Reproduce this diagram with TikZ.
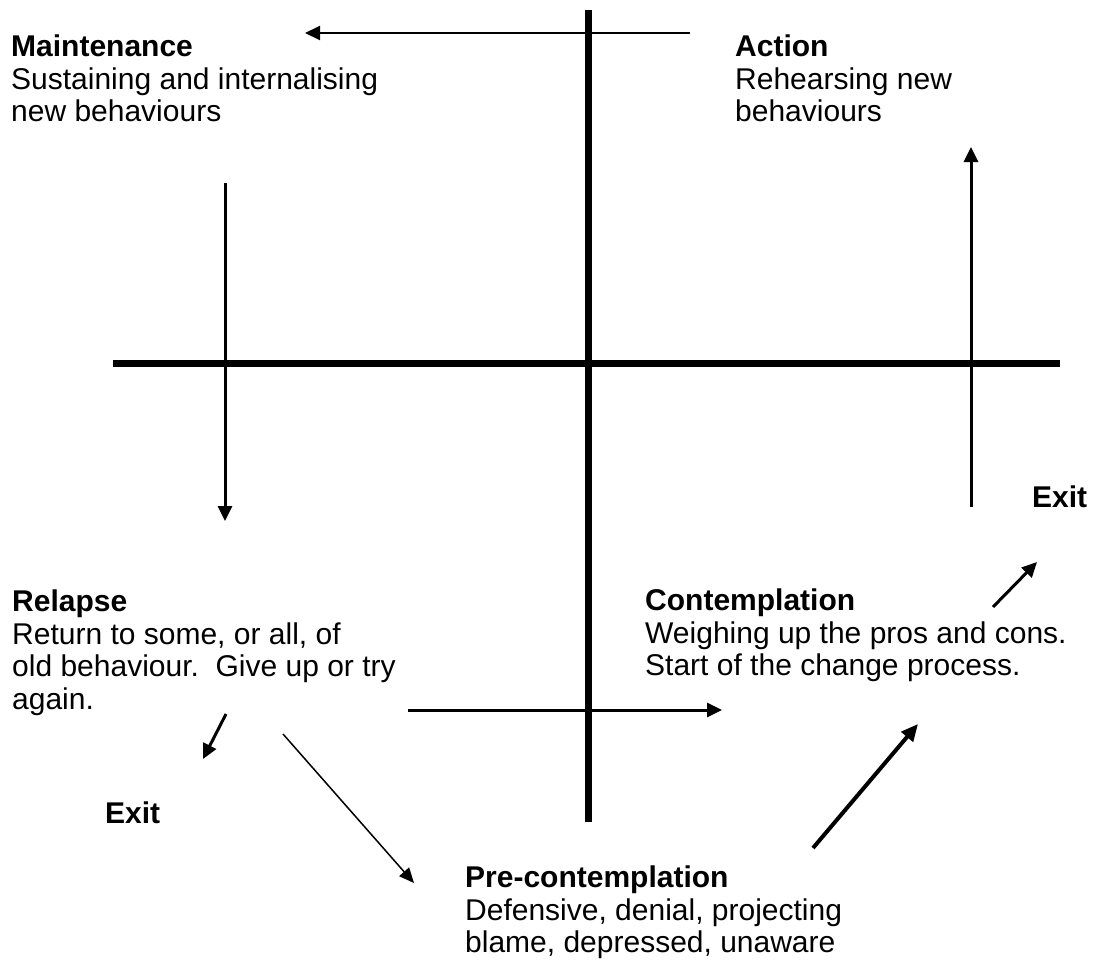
\documentclass[tikz,border=0pt]{standalone}
\usepackage{fontspec}
\setmainfont{Liberation Sans}
\usetikzlibrary{arrows.meta}
\begin{document}
\begin{tikzpicture}[x=1pt,y=-1pt,
  axis/.style={line width=7pt},
  arr/.style={line width=3pt,-{Triangle[length=15pt,width=14pt]}},
  arrthin/.style={line width=2pt,-{Triangle[length=15pt,width=14pt]}},
  arrhair/.style={line width=1.5pt,-{Triangle[length=15pt,width=13pt]}},
  arrbold/.style={line width=4pt,-{Triangle[length=17pt,width=15pt]}},
  stage/.style={anchor=north west,inner sep=0pt,align=left,
    font=\fontsize{30}{32.5}\selectfont},
  exitlbl/.style={anchor=north west,inner sep=0pt,font=\fontsize{30}{32.5}\selectfont\bfseries}]
\useasboundingbox (0,0) rectangle (1093,964);
% axes
\coordinate (vt) at (588,10);
\coordinate (vb) at (588,822);
\coordinate (hl) at (113,363);
\coordinate (hr) at (1060,363);
\draw[axis] (vt) -- (vb);
\draw[axis] (hl) -- (hr);
% text blocks
\node[stage] (maint) at (11,35) {\textbf{Maintenance}\\Sustaining and internalising\\new behaviours};
\node[stage] (action) at (735,35) {\textbf{Action}\\Rehearsing new\\behaviours};
\node[stage] (relapse) at (12,590) {\textbf{Relapse}\\Return to some, or all, of\\old behaviour.\ \ Give up or try\\again.};
\node[stage] (contemp) at (645,589) {\textbf{Contemplation}\\Weighing up the pros and cons.\\Start of the change process.};
\node[stage] (precon) at (465,866) {\textbf{Pre-contemplation}\\Defensive, denial, projecting\\blame, depressed, unaware};
\node[exitlbl] (exitR) at (1032,486) {Exit};
\node[exitlbl] (exitL) at (105,802) {Exit};
% connector coordinates
\coordinate (a1s) at (690,33);
\coordinate (a1e) at (305,33);
\coordinate (a2s) at (225,183);
\coordinate (a2e) at (225,521);
\coordinate (a3s) at (971,507);
\coordinate (a3e) at (971,147);
\coordinate (a4s) at (993,607);
\coordinate (a4e) at (1037,562);
\coordinate (a5s) at (226,714);
\coordinate (a5e) at (203,759);
\coordinate (a6s) at (283,734);
\coordinate (a6e) at (414,883);
\coordinate (a7s) at (408,710);
\coordinate (a7e) at (722,710);
\coordinate (a8s) at (813,848);
\coordinate (a8e) at (918,724);
% connectors
\draw[arrthin] (a1s) -- (a1e);
\draw[arr] (a2s) -- (a2e);
\draw[arr] (a3s) -- (a3e);
\draw[arr] (a4s) -- (a4e);
\draw[arr] (a5s) -- (a5e);
\draw[arrhair] (a6s) -- (a6e);
\draw[arr] (a7s) -- (a7e);
\draw[arrbold] (a8s) -- (a8e);
\end{tikzpicture}
\end{document}
